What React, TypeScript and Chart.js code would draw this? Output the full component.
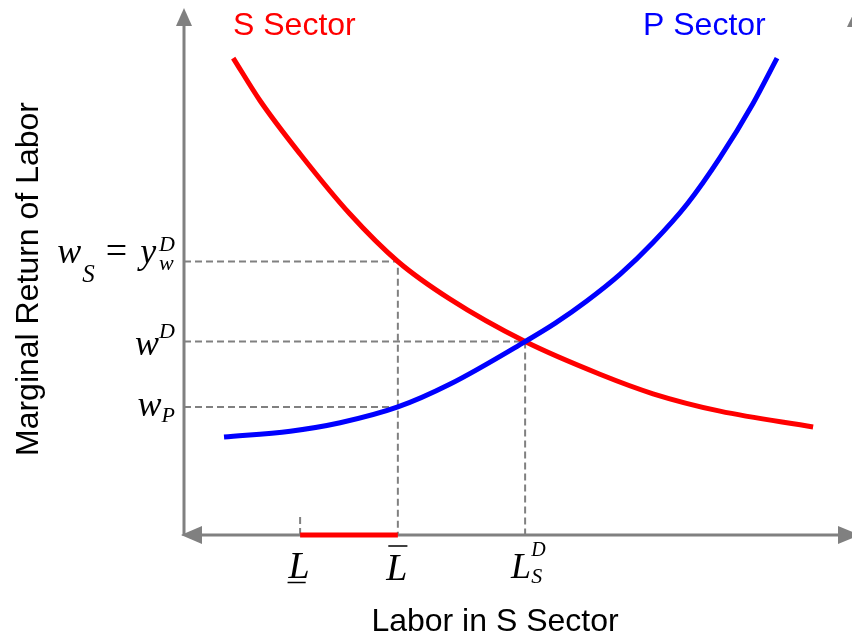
import { useEffect, useRef } from "react";
import { Chart, registerables } from "chart.js";
Chart.register(...registerables);

// Curve data (labor, marginal return)
const sX = [7.5, 11.6, 17.7, 25.3, 32.6, 40.5, 52.0, 63.4, 71.5, 81.7, 95.9];
const sY = [90.5, 82.4, 72.3, 60.9, 51.9, 44.8, 36.7, 30.5, 26.8, 23.5, 20.5];
const pX = [6.1, 16.2, 23.8, 32.6, 40.5, 52.0, 56.6, 61.4, 66.5, 71.5, 76.7, 81.7, 86.7, 90.4];
const pY = [18.6, 19.7, 21.3, 24.3, 28.6, 36.7, 40.2, 44.4, 49.5, 55.5, 62.8, 71.6, 81.8, 90.5];
// Key levels
const L_LOW = 17.7;
const L_BAR = 32.6;
const L_SD = 52.0;
const W_S = 51.9;
const W_D = 36.7;
const W_P = 24.3;
const TICK_H = 4;
// Text
const S_LABEL = "S Sector";
const P_LABEL = "P Sector";
const X_TITLE = "Labor in S Sector";
const Y_TITLE = "Marginal Return of Labor";

const GRAY = "#808080";
const RED = "#ff0000";
const BLUE = "#0000ff";
const SANS = '"Liberation Sans", Arial, sans-serif';
const SERIF = '"Liberation Serif", "Times New Roman", serif';

type Piece = { t: string; size: number; dy: number; it?: boolean; stack?: boolean; pad?: number };

function drawMath(ctx: CanvasRenderingContext2D, pieces: Piece[], x: number, y: number, align: "left" | "right" | "center") {
  const laid: { p: Piece; x: number }[] = [];
  let cur = 0, prevStart = 0, prevEnd = 0;
  for (const p of pieces) {
    ctx.font = `${p.it === false ? "" : "italic "}${p.size}px ${SERIF}`;
    const w = ctx.measureText(p.t).width;
    const pad = p.pad || 0;
    const start = p.stack ? prevStart : cur + pad;
    const end = start + w;
    if (p.stack) {
      prevEnd = Math.max(prevEnd, end);
      cur = prevEnd;
    } else {
      prevEnd = end + pad;
      cur = end + pad;
    }
    prevStart = start;
    laid.push({ p, x: start });
  }
  const total = cur;
  const ox = align === "left" ? x : align === "right" ? x - total : x - total / 2;
  ctx.textAlign = "left";
  ctx.textBaseline = "alphabetic";
  for (const l of laid) {
    ctx.font = `${l.p.it === false ? "" : "italic "}${l.p.size}px ${SERIF}`;
    ctx.fillText(l.p.t, ox + l.x, y + l.p.dy);
  }
  return { left: ox, right: ox + total };
}

const decor = {
  id: "decor",
  beforeDatasetsDraw(chart: any) {
    const ctx: CanvasRenderingContext2D = chart.ctx;
    const xs = chart.scales.x, ys = chart.scales.y;
    const x0 = xs.getPixelForValue(0);
    const y0 = ys.getPixelForValue(0);
    const top = ys.getPixelForValue(100);
    ctx.save();
    ctx.strokeStyle = GRAY;
    ctx.fillStyle = GRAY;
    ctx.lineWidth = 3;
    ctx.beginPath();
    ctx.moveTo(x0, y0 + 1);
    ctx.lineTo(x0, top + 14);
    ctx.moveTo(x0 + 12, y0);
    ctx.lineTo(845, y0);
    ctx.stroke();
    // y arrow
    ctx.beginPath();
    ctx.moveTo(x0, top);
    ctx.lineTo(x0 - 8, top + 18);
    ctx.lineTo(x0 + 8, top + 18);
    ctx.closePath();
    ctx.fill();
    // left x arrow
    ctx.beginPath();
    ctx.moveTo(x0 - 3, y0);
    ctx.lineTo(x0 + 18, y0 - 9);
    ctx.lineTo(x0 + 18, y0 + 9);
    ctx.closePath();
    ctx.fill();
    // right x arrow
    ctx.beginPath();
    ctx.moveTo(860, y0);
    ctx.lineTo(838, y0 - 9);
    ctx.lineTo(838, y0 + 9);
    ctx.closePath();
    ctx.fill();
    // partial arrow at top-right corner
    ctx.beginPath();
    ctx.moveTo(856, top);
    ctx.lineTo(847, top + 19);
    ctx.lineTo(865, top + 19);
    ctx.closePath();
    ctx.fill();
    ctx.restore();
  },
  afterDatasetsDraw(chart: any) {
    const ctx: CanvasRenderingContext2D = chart.ctx;
    const xs = chart.scales.x, ys = chart.scales.y;
    ctx.save();
    // Sector labels
    ctx.font = `32px ${SANS}`;
    ctx.textAlign = "left";
    ctx.textBaseline = "alphabetic";
    ctx.fillStyle = RED;
    ctx.fillText(S_LABEL, 233, 35);
    ctx.fillStyle = BLUE;
    ctx.fillText(P_LABEL, 643, 35);
    // Axis titles
    ctx.fillStyle = "#000";
    ctx.font = `32px ${SANS}`;
    ctx.textAlign = "center";
    ctx.fillText(X_TITLE, 495, 631);
    ctx.save();
    ctx.translate(38, 279);
    ctx.rotate(-Math.PI / 2);
    ctx.fillText(Y_TITLE, 0, 0);
    ctx.restore();
    // y-axis math labels
    const rx = xs.getPixelForValue(0) - 9;
    drawMath(ctx, [
      { t: "w", size: 36, dy: 0 },
      { t: "S", size: 25, dy: 19, pad: 1 },
      { t: "=", size: 38, dy: 0, it: false, pad: 10 },
      { t: "y", size: 36, dy: 0, pad: 3 },
      { t: "D", size: 22, dy: -12 },
      { t: "w", size: 22, dy: 7, stack: true },
    ], rx, ys.getPixelForValue(W_S) + 2, "right");
    drawMath(ctx, [
      { t: "w", size: 36, dy: 0 },
      { t: "D", size: 22, dy: -17 },
    ], rx, ys.getPixelForValue(W_D) + 13, "right");
    drawMath(ctx, [
      { t: "w", size: 36, dy: 0 },
      { t: "P", size: 22, dy: 6 },
    ], rx, ys.getPixelForValue(W_P) + 9, "right");
    // x-axis math labels
    const by = 578;
    ctx.strokeStyle = "#000";
    ctx.lineWidth = 1.5;
    const a = drawMath(ctx, [{ t: "L", size: 38, dy: 0 }], xs.getPixelForValue(L_LOW) - 1, by, "center");
    ctx.beginPath();
    ctx.moveTo(a.left - 1, by + 4.5);
    ctx.lineTo(a.right - 4, by + 4.5);
    ctx.stroke();
    const b = drawMath(ctx, [{ t: "L", size: 38, dy: 0 }], xs.getPixelForValue(L_BAR) - 1, by + 2, "center");
    ctx.beginPath();
    ctx.moveTo(b.left + 2, 546);
    ctx.lineTo(b.right, 546);
    ctx.stroke();
    drawMath(ctx, [
      { t: "L", size: 36, dy: 0 },
      { t: "S", size: 22, dy: 5 },
      { t: "D", size: 20, dy: -22, stack: true },
    ], xs.getPixelForValue(L_SD) - 14, by, "left");
    ctx.restore();
  },
};

function pts(xv: number[], yv: number[]) {
  return xv.map((x, i) => ({ x, y: yv[i] }));
}

export default function App() {
  const ref = useRef<HTMLCanvasElement>(null);
  useEffect(() => {
    if (!ref.current) return;
    const dash = {
      borderColor: GRAY,
      borderWidth: 2,
      borderDash: [7, 4],
      pointRadius: 0,
      tension: 0,
      clip: false as any,
    };
    const chart = new Chart(ref.current, {
      type: "line",
      data: {
        datasets: [
          { data: pts(pX, pY), borderColor: BLUE, borderWidth: 5, pointRadius: 0, cubicInterpolationMode: "monotone", clip: false as any },
          { data: pts(sX, sY), borderColor: RED, borderWidth: 5, pointRadius: 0, cubicInterpolationMode: "monotone", clip: false as any },
          { data: [{ x: L_LOW, y: 0 }, { x: L_BAR, y: 0 }], borderColor: RED, borderWidth: 5, pointRadius: 0, clip: false as any, borderCapStyle: "butt" },
          { data: [{ x: 0, y: W_S }, { x: L_BAR, y: W_S }, { x: L_BAR, y: 0 }], ...dash },
          { data: [{ x: 0, y: W_D }, { x: L_SD, y: W_D }, { x: L_SD, y: 0 }], ...dash },
          { data: [{ x: 0, y: W_P }, { x: L_BAR, y: W_P }], ...dash },
          { data: [{ x: L_LOW, y: 0 }, { x: L_LOW, y: TICK_H }], ...dash },
        ] as any,
      },
      options: {
        animation: false,
        responsive: false,
        layout: { padding: { left: 184, right: 12, top: 8, bottom: 104 } },
        scales: {
          x: { type: "linear", min: 0, max: 100, display: false },
          y: { type: "linear", min: 0, max: 100, display: false },
        },
        plugins: { legend: { display: false }, tooltip: { enabled: false } },
        events: [],
      },
      plugins: [decor],
    });
    return () => chart.destroy();
  }, []);
  return (
    <div style={{ position: "absolute", left: 0, top: 0, width: 852, height: 639, background: "#fff" }}>
      <canvas ref={ref} width={852} height={639} style={{ display: "block" }} />
    </div>
  );
}
